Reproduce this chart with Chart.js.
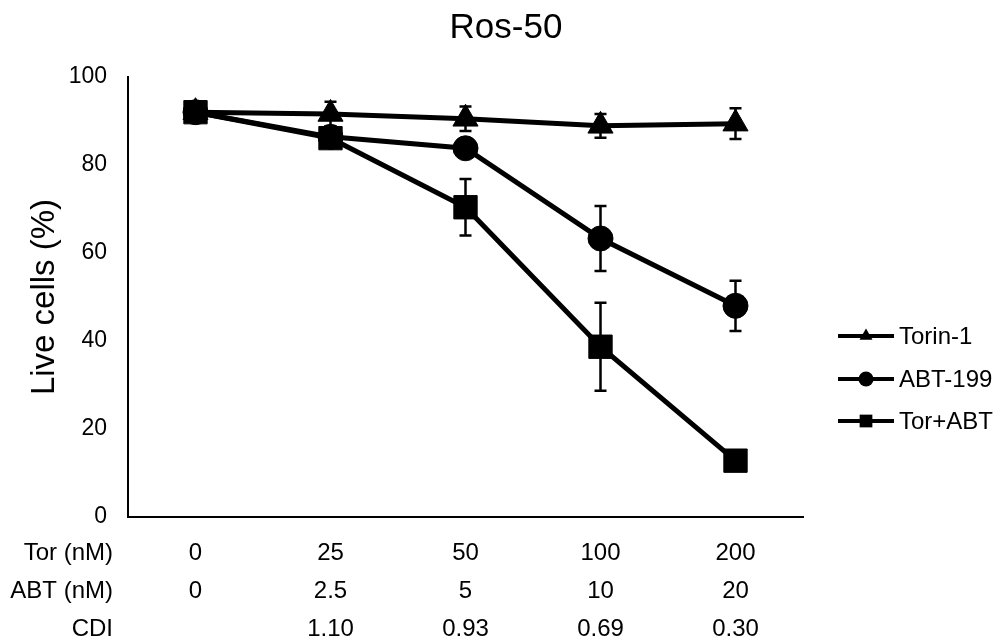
<!DOCTYPE html>
<html>
<head>
<meta charset="utf-8">
<script src="https://cdn.jsdelivr.net/npm/chart.js@4"></script>
<style>
  html, body { margin: 0; padding: 0; background: #fff; }
  #wrap { width: 996px; height: 644px; }
</style>
</head>
<body>
<div id="wrap"><canvas id="grafico"></canvas></div>
<script>
// dose labels on the x axis (three rows)
const torDoses = ['0', '25', '50', '100', '200']
const abtDoses = ['0', '2.5', '5', '10', '20']
const cdiValues = ['', '1.10', '0.93', '0.69', '0.30']
const rowTitles = ['Tor (nM)', 'ABT (nM)', 'CDI']

// live cells (%) and error bars
const torin = [92.0, 91.6, 90.5, 88.9, 89.4]
const torinErr = [0, 2.8, 2.8, 2.7, 3.5]
const abt = [92.0, 86.4, 83.8, 63.3, 48.0]
const abtErr = [0, 1.0, 1.0, 7.4, 5.7]
const torAbt = [92.0, 86.1, 70.4, 38.7, 12.8]
const torAbtErr = [0, 1.0, 6.4, 10.0, 1.0]

const yTicks = [0, 20, 40, 60, 80, 100]
const chartTitle = 'Ros-50'

const FONT = '"Liberation Sans", Arial, sans-serif'
const X_PAD = 17
const ROW_H = 38

let labels = torDoses.map((t, i) => [t, abtDoses[i], cdiValues[i]])

// error bars
const errorBars = {
    id: 'errorBars',
    afterDatasetsDraw(chart) {
        let ctx = chart.ctx
        let y = chart.scales.y
        ctx.save()
        ctx.strokeStyle = '#000'
        ctx.lineWidth = 2.5
        chart.data.datasets.forEach((ds, d) => {
            let meta = chart.getDatasetMeta(d)
            ds.errors.forEach((e, i) => {
                if (!e) return
                let px = meta.data[i].x
                let top = y.getPixelForValue(ds.data[i] + e)
                let bot = y.getPixelForValue(ds.data[i] - e)
                ctx.beginPath()
                ctx.moveTo(px, top); ctx.lineTo(px, bot)
                ctx.moveTo(px - 6, top); ctx.lineTo(px + 6, top)
                ctx.moveTo(px - 6, bot); ctx.lineTo(px + 6, bot)
                ctx.stroke()
            })
        })
        ctx.restore()
    }
}

function marker(ctx, style, x, y, r) {
    ctx.beginPath()
    if (style === 'triangle') {
        ctx.moveTo(x, y - r)
        ctx.lineTo(x + r * 0.866, y + r / 2)
        ctx.lineTo(x - r * 0.866, y + r / 2)
        ctx.closePath()
    } else if (style === 'circle') {
        ctx.arc(x, y, r, 0, Math.PI * 2)
    } else {
        ctx.rect(x - r * 0.707, y - r * 0.707, r * 1.414, r * 1.414)
    }
    ctx.fill()
}

// title, legend on the right, row titles under the x axis
const extras = {
    id: 'extras',
    afterDraw(chart) {
        let ctx = chart.ctx
        ctx.save()
        ctx.fillStyle = '#000'
        ctx.strokeStyle = '#000'
        ctx.textBaseline = 'middle'

        ctx.font = '35px ' + FONT
        ctx.textAlign = 'center'
        ctx.fillText(chartTitle, 506, 28)

        ctx.font = '24px ' + FONT
        let rowsY = [336, 379, 421]
        chart.data.datasets.forEach((ds, i) => {
            let yy = rowsY[i]
            ctx.lineWidth = 4
            ctx.beginPath()
            ctx.moveTo(838, yy); ctx.lineTo(894, yy)
            ctx.stroke()
            marker(ctx, ds.pointStyle, 866, yy, ds.pointStyle === 'rect' ? 9 : 7.5)
            ctx.textAlign = 'left'
            ctx.fillText(ds.label, 899, yy + 1)
        })

        let xs = chart.scales.x
        ctx.textAlign = 'right'
        rowTitles.forEach((t, i) => {
            ctx.fillText(t, 113, xs.top + X_PAD + ROW_H / 2 + i * ROW_H)
        })
        ctx.restore()
    }
}

let ctx = document.getElementById('grafico')
new Chart(ctx, {
    type: 'line',
    data: {
        labels: labels,
        datasets: [
            { label: 'Torin-1', data: torin, errors: torinErr, pointStyle: 'triangle', pointRadius: 14.5, order: 2 },
            { label: 'ABT-199', data: abt, errors: abtErr, pointStyle: 'circle', pointRadius: 12.5, order: 1 },
            { label: 'Tor+ABT', data: torAbt, errors: torAbtErr, pointStyle: 'rect', pointRadius: 16.5, order: 0 }
        ].map(ds => Object.assign(ds, {
            borderColor: '#000',
            backgroundColor: '#000',
            pointBackgroundColor: '#000',
            pointBorderColor: '#000',
            pointBorderWidth: 1,
            borderWidth: 5,
            tension: 0
        }))
    },
    options: {
        responsive: true,
        maintainAspectRatio: false,
        animation: false,
        layout: { padding: { left: 0, right: 193, top: 77, bottom: 0 } },
        plugins: {
            legend: { display: false },
            tooltip: { enabled: false },
            title: { display: false }
        },
        scales: {
            x: {
                offset: true,
                grid: { display: false, drawTicks: false },
                border: { display: true, color: '#000', width: 2 },
                ticks: {
                    color: '#000',
                    padding: X_PAD,
                    maxRotation: 0,
                    font: { family: FONT, size: 24, lineHeight: ROW_H / 24 }
                },
                afterFit: s => { s.height = 127 }
            },
            y: {
                min: 0,
                max: 100,
                afterBuildTicks: s => { s.ticks = yTicks.map(v => ({ value: v })) },
                grid: { display: false, drawTicks: false },
                border: { display: true, color: '#000', width: 2 },
                ticks: {
                    color: '#000',
                    padding: 21,
                    font: { family: FONT, size: 23 }
                },
                title: {
                    display: true,
                    text: 'Live cells (%)',
                    color: '#000',
                    font: { family: FONT, size: 33, lineHeight: 1.2 },
                    padding: { top: 25, bottom: 0 }
                },
                afterFit: s => { s.width = 128 }
            }
        }
    },
    plugins: [errorBars, extras]
})
</script>
</body>
</html>
